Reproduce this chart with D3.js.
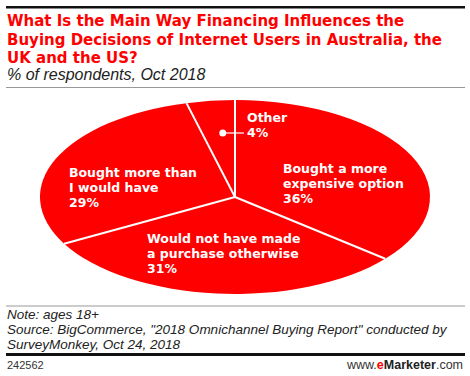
<!DOCTYPE html>
<html>
<head>
<meta charset="utf-8">
<script src="https://cdn.jsdelivr.net/npm/d3@7"></script>
<style>
  body { margin: 0; background: #fff; }
  svg { display: block; }
  text { font-family: "Liberation Sans", Arial, sans-serif; }
</style>
</head>
<body>
<div id="chart"></div>
<script>
// data
const categories = ['Bought a more expensive option', 'Would not have made a purchase otherwise', 'Bought more than I would have', 'Other'];
const values = [36, 31, 29, 4];
const labelLines = [
  ['Bought a more', 'expensive option'],
  ['Would not have made', 'a purchase otherwise'],
  ['Bought more than', 'I would have'],
  ['Other']
];
const titleLines = [
  'What Is the Main Way Financing Influences the',
  'Buying Decisions of Internet Users in Australia, the',
  'UK and the US?'
];
const subtitle = '% of respondents, Oct 2018';
const noteLines = [
  'Note: ages 18+',
  'Source: BigCommerce, "2018 Omnichannel Buying Report" conducted by',
  'SurveyMonkey, Oct 24, 2018'
];
const chartId = '242562';

const W = 470, H = 376;
const RED = '#ff0000';

const svg = d3.select('#chart').append('svg')
  .attr('width', W).attr('height', H);

// header
svg.append('rect').attr('x', 6).attr('y', 6).attr('width', 459).attr('height', 2.5).attr('fill', '#111');

titleLines.forEach((t, i) => {
  svg.append('text')
    .attr('x', 7).attr('y', 26 + i * 18.5)
    .attr('fill', RED)
    .style('font-family', '"DejaVu Sans", Verdana, sans-serif')
    .attr('font-size', 15).attr('font-weight', 'bold')
    .text(t);
});
svg.append('text')
  .attr('x', 7).attr('y', 80)
  .attr('fill', '#222')
  .attr('font-size', 16).attr('font-style', 'italic')
  .text(subtitle);
svg.append('rect').attr('x', 6).attr('y', 87).attr('width', 459).attr('height', 1).attr('fill', '#999');

// pie (flattened to an ellipse)
const cx = 235, cy = 197, R = 195, squash = 0.497;
const pie = d3.pie().sort(null).value(d => d.value);
const arcs = pie(categories.map((c, i) => ({ key: c, value: values[i] })));
const arc = d3.arc().innerRadius(0).outerRadius(R);

const pg = svg.append('g')
  .attr('transform', `translate(${cx},${cy}) scale(1,${squash})`);

pg.selectAll('path.slice')
  .data(arcs)
  .join('path')
  .attr('class', 'slice')
  .attr('d', arc)
  .attr('fill', RED);

// white separators from center to rim
pg.selectAll('line.sep')
  .data(arcs)
  .join('line')
  .attr('class', 'sep')
  .attr('x1', 0).attr('y1', 0)
  .attr('x2', d => Math.sin(d.startAngle) * R)
  .attr('y2', d => -Math.cos(d.startAngle) * R)
  .attr('stroke', '#fff')
  .attr('stroke-width', 2)
  .attr('vector-effect', 'non-scaling-stroke');

// labels (hand placed, like the original)
const labelPos = [
  { x: 283, y: 173 },
  { x: 147, y: 243 },
  { x: 69, y: 177 },
  { x: 247, y: 122 }
];
const lineH = 15;
arcs.forEach((d, i) => {
  const p = labelPos[i];
  const t = svg.append('text')
    .attr('fill', '#fff')
    .style('font-family', '"DejaVu Sans", Verdana, sans-serif')
    .attr('font-size', 12.5).attr('font-weight', 'bold');
  labelLines[i].concat([values[i] + '%']).forEach((ln, j) => {
    t.append('tspan').attr('x', p.x).attr('y', p.y + j * lineH).text(ln);
  });
});

// callout for the small slice
const other = arcs[3];
const mid = (other.startAngle + other.endAngle) / 2;
const dotX = cx + Math.sin(mid) * R * 0.5;
const dotY = 133;
svg.append('circle').attr('cx', dotX).attr('cy', dotY).attr('r', 3.5).attr('fill', '#fff');
svg.append('line')
  .attr('x1', dotX).attr('y1', dotY).attr('x2', 244).attr('y2', dotY)
  .attr('stroke', '#fff').attr('stroke-width', 1.2);

// footer
svg.append('rect').attr('x', 6).attr('y', 305.5).attr('width', 459).attr('height', 1).attr('fill', '#999');
noteLines.forEach((t, i) => {
  svg.append('text')
    .attr('x', 7).attr('y', 319 + i * 15)
    .attr('fill', '#222')
    .attr('font-size', 13.5).attr('font-style', 'italic')
    .text(t);
});
svg.append('rect').attr('x', 6).attr('y', 353).attr('width', 459).attr('height', 3).attr('fill', '#111');
svg.append('text')
  .attr('x', 7).attr('y', 369)
  .attr('fill', '#333').attr('font-size', 11)
  .text(chartId);

const brand = svg.append('text')
  .attr('x', 463).attr('y', 369)
  .attr('text-anchor', 'end')
  .attr('font-size', 12.5).attr('fill', '#333');
brand.append('tspan').text('www.');
brand.append('tspan').attr('fill', RED).attr('font-weight', 'bold').text('e');
brand.append('tspan').attr('font-weight', 'bold').attr('fill', '#222').text('Marketer');
brand.append('tspan').text('.com');
</script>
</body>
</html>
